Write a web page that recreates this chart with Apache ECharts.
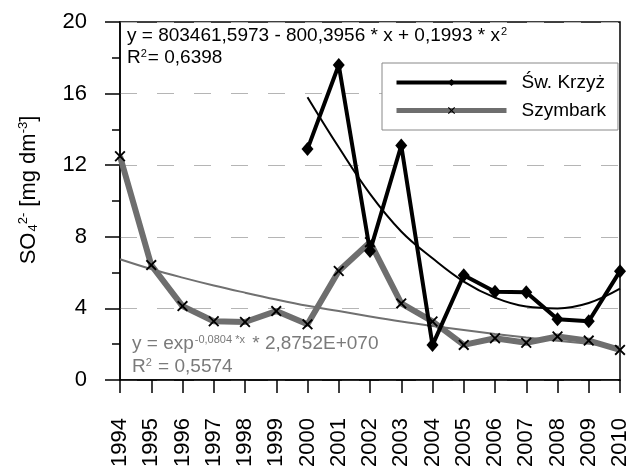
<!DOCTYPE html>
<html><head><meta charset="utf-8">
<script src="https://cdn.jsdelivr.net/npm/echarts@6/dist/echarts.min.js"></script>
<style>html,body{margin:0;padding:0;background:#fff}#c{width:635px;height:466px}</style>
</head><body><div id="c"></div>
<script>
var years = ['1994','1995','1996','1997','1998','1999','2000','2001','2002','2003','2004','2005','2006','2007','2008','2009','2010'];
var swKrzyz = [null,null,null,null,null,null,12.9,17.6,7.2,13.1,1.95,5.85,4.93,4.9,3.4,3.28,6.08];
var szymbark = [12.5,6.42,4.13,3.28,3.24,3.85,3.11,6.09,7.7,4.28,3.27,1.96,2.33,2.08,2.43,2.2,1.68];
var polyTrend = [null,null,null,null,null,null,15.8,13.0,10.4,8.3,6.8,5.5,4.6,4.1,4.0,4.3,5.1];
var expTrend = [6.75,6.2,5.72,5.28,4.88,4.5,4.15,3.85,3.55,3.27,3.02,2.79,2.57,2.37,2.19,2.02,1.86];
var yTicks = [0,4,8,12,16,20];

var F = 'Liberation Sans, Arial, sans-serif';
var chart = echarts.init(document.getElementById('c'), null, {renderer:'canvas'});
var xPath = 'path://M0,1.2L1.2,0L5,3.8L8.8,0L10,1.2L6.2,5L10,8.8L8.8,10L5,6.2L1.2,10L0,8.8L3.8,5Z';
function rs(size,color,pad){return {fontFamily:F,fontSize:size,color:color,fontWeight:'normal',padding:pad||0};}
chart.setOption({
  animation:false,
  backgroundColor:'#fff',
  grid:{left:120,right:15,top:22,bottom:86,outerBoundsMode:'none',containLabel:false,show:true,borderColor:'#000',borderWidth:1.5,backgroundColor:'transparent'},
  title:[
    {left:127,top:26,padding:0,text:'{a|y = 803461,5973 - 800,3956 * x + 0,1993 * x}{s|2}',
      textStyle:{fontWeight:'normal',rich:{a:rs(19,'#000'),s:rs(11,'#000',[0,0,9,1])}}},
    {left:127,top:48,padding:0,text:'{a|R}{s|2}{a|= 0,6398}',
      textStyle:{fontWeight:'normal',rich:{a:rs(19,'#000'),s:rs(11,'#000',[0,1,9,0])}}},
    {left:132,top:334,padding:0,text:'{a|y = exp}{s|-0,0804 *x}{a| * 2,8752E+070}',
      textStyle:{fontWeight:'normal',rich:{a:rs(19,'#7a7a7a'),s:rs(11,'#7a7a7a',[0,2,9,1])}}},
    {left:132,top:357,padding:0,text:'{a|R}{s|2}{a| = 0,5574}',
      textStyle:{fontWeight:'normal',rich:{a:rs(19,'#7a7a7a'),s:rs(11,'#7a7a7a',[0,1,9,0])}}}
  ],
  legend:{
    left:382,top:63,orient:'vertical',
    padding:[10,12,10,12],itemGap:9,
    backgroundColor:'#fff',borderColor:'#888',borderWidth:1,borderRadius:0,
    itemWidth:110,itemHeight:9,
    data:[
      {name:'Św. Krzyż',lineStyle:{width:4,color:'#000'},itemStyle:{color:'#000'}},
      {name:'Szymbark',lineStyle:{width:5,color:'#6e6e6e'},itemStyle:{color:'#000'}}
    ],
    textStyle:{fontFamily:F,fontSize:19,color:'#000',padding:[0,0,0,10]}
  },
  xAxis:{
    type:'category',data:years,boundaryGap:false,
    axisLine:{lineStyle:{color:'#000',width:1.5}},
    axisTick:{show:true,inside:false,length:13,alignWithLabel:true,lineStyle:{color:'#000',width:1.5}},
    axisLabel:{rotate:90,fontFamily:F,fontSize:22,color:'#000',margin:38,interval:0,hideOverlap:false},
    splitLine:{show:false}
  },
  yAxis:{
    type:'value',min:yTicks[0],max:yTicks[yTicks.length-1],interval:4,
    name:'{g|}{n|SO}{b|4}{p|2-}{n| [mg dm}{p|-3}{n|]}',nameLocation:'middle',nameGap:80,nameRotate:90,
    nameTextStyle:{rich:{g:{width:22},n:rs(22,'#000'),b:rs(13,'#000',[10,0,0,1]),p:rs(13,'#000',[0,0,10,0])}},
    axisLine:{show:true,lineStyle:{color:'#000',width:1.5}},
    axisTick:{show:true,inside:false,length:15,lineStyle:{color:'#000',width:1.5}},
    minorTick:{show:true,splitNumber:2,length:8,lineStyle:{color:'#000',width:1.5}},
    axisLabel:{fontFamily:F,fontSize:22,color:'#000',margin:33,
      formatter:function(v){return yTicks.indexOf(v)>=0?String(v):'';}},
    splitLine:{show:true,lineStyle:{color:'#b5b5b5',width:1,type:[17,20]}}
  },
  series:[
    {name:'polyTrend',type:'line',data:polyTrend,smooth:0.4,symbol:'none',silent:true,
      lineStyle:{color:'#000',width:2},z:2},
    {name:'expTrend',type:'line',data:expTrend,smooth:0.4,symbol:'none',silent:true,
      lineStyle:{color:'#707070',width:2},z:2},
    {name:'Szymbark',type:'line',data:szymbark,symbol:xPath,symbolSize:11,
      lineStyle:{color:'#6e6e6e',width:6},itemStyle:{color:'#000'},z:3},
    {name:'Św. Krzyż',type:'line',data:swKrzyz,symbol:'diamond',symbolSize:[12,14],
      lineStyle:{color:'#000',width:4},itemStyle:{color:'#000'},z:4}
  ]
});
</script></body></html>
